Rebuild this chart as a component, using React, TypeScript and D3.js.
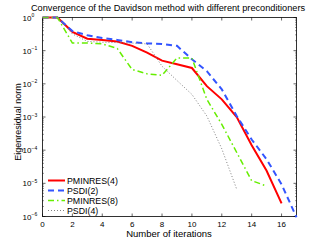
import React from "react";
import * as d3 from "d3";

const iterations = d3.range(0, 18);

const pminres4 = [1, 1, 0.37, 0.23, 0.21, 0.19, 0.14, 0.087, 0.05, 0.039, 0.03, 0.0085, 0.0034, 0.001, 1.4e-4, 2.4e-5, 2.5e-6];
const psdi2 = [1, 1, 0.39, 0.29, 0.24, 0.21, 0.18, 0.165, 0.16, 0.14, 0.055, 0.024, 0.0068, 0.00107, 2.1e-4, 5.3e-5, 9.3e-6, 9.5e-7];
const pminres8 = [1, 1, 0.17, 0.17, 0.16, 0.117, 0.027, 0.02, 0.018, 0.06, 0.06, 0.0034, 6e-4, 8.5e-5, 1.2e-5, 8.3e-6];
const psdi4 = [1, 1, 0.32, 0.19, 0.18, 0.175, 0.17, 0.16, 0.034, 0.0126, 0.0048, 0.00107, 1.1e-4, 6.6e-6];

const xTicks = [0, 2, 4, 6, 8, 10, 12, 14, 16];
const yExponents = [0, -1, -2, -3, -4, -5, -6];

const series = [
  { name: "PMINRES(4)", values: pminres4, color: "#ff0000", dash: "", width: 2 },
  { name: "PSDI(2)", values: psdi2, color: "#3355ff", dash: "6,4", width: 2 },
  { name: "PMINRES(8)", values: pminres8, color: "#66ee00", dash: "6,3,1.5,3", width: 1.5 },
  { name: "PSDI(4)", values: psdi4, color: "#808080", dash: "1,2", width: 1 },
];

const W = 327;
const H = 246;
const m = { left: 42.5, right: 30.5, top: 17.5, bottom: 29.5 };

export default function App() {
  const x = d3.scaleLinear().domain([0, 17]).range([m.left, W - m.right]);
  const y = d3.scaleLog().domain([1e-6, 1]).range([H - m.bottom, m.top]);
  const line = d3
    .line<number>()
    .x((_, i) => x(iterations[i]))
    .y((d) => y(d));
  const font = "'Liberation Sans', Arial, sans-serif";
  const minor: number[] = [];
  for (let e = -6; e < 0; e++) for (let k = 2; k < 10; k++) minor.push(k * Math.pow(10, e));
  const x0 = x(0), x1 = x(17), y0 = y(1e-6), y1 = y(1);

  return (
    <svg width={W} height={H} style={{ position: "absolute", left: 0, top: 0 }} fontFamily={font}>
      <rect width={W} height={H} fill="#fff" />
      <text x={168} y={10.5} fontSize={9.2} textAnchor="middle" fill="#000">
        Convergence of the Davidson method with different preconditioners
      </text>
      <rect x={x0} y={y1} width={x1 - x0} height={y0 - y1} fill="#fff" stroke="#000" strokeWidth={0.8} />
      {xTicks.map((t) => (
        <g key={t}>
          <line x1={x(t)} x2={x(t)} y1={y0} y2={y0 - 3} stroke="#000" strokeWidth={0.6} />
          <line x1={x(t)} x2={x(t)} y1={y1} y2={y1 + 3} stroke="#000" strokeWidth={0.6} />
          <text x={x(t)} y={y0 + 10} fontSize={8} textAnchor="middle">{t}</text>
        </g>
      ))}
      {yExponents.map((e) => (
        <g key={e}>
          <line x1={x0} x2={x0 + 3} y1={y(Math.pow(10, e))} y2={y(Math.pow(10, e))} stroke="#000" strokeWidth={0.6} />
          <line x1={x1} x2={x1 - 3} y1={y(Math.pow(10, e))} y2={y(Math.pow(10, e))} stroke="#000" strokeWidth={0.6} />
          <text x={x0 - 11} y={y(Math.pow(10, e)) + 3} fontSize={8} textAnchor="end">
            10
          </text>
          <text x={x0 - 11} y={y(Math.pow(10, e)) - 0.5} fontSize={5} textAnchor="start">
            {e === 0 ? "0" : "\u2212" + -e}
          </text>
        </g>
      ))}
      {minor.map((v) => (
        <g key={v}>
          <line x1={x0} x2={x0 + 1.5} y1={y(v)} y2={y(v)} stroke="#000" strokeWidth={0.4} />
          <line x1={x1} x2={x1 - 1.5} y1={y(v)} y2={y(v)} stroke="#000" strokeWidth={0.4} />
        </g>
      ))}
      {series.map((s) => (
        <path
          key={s.name}
          d={line(s.values) || ""}
          fill="none"
          stroke={s.color}
          strokeWidth={s.width}
          strokeDasharray={s.dash}
        />
      ))}
      {series.map((s, i) => (
        <g key={s.name} transform={`translate(0,${180.5 + i * 10})`}>
          <line x1={48} x2={65} y1={0} y2={0} stroke={s.color} strokeWidth={s.width} strokeDasharray={s.dash} />
          <text x={67} y={3.2} fontSize={8.8}>{s.name}</text>
        </g>
      ))}
      <text x={169} y={237} fontSize={9.5} textAnchor="middle">Number of iterations</text>
      <text transform={`translate(21,${122}) rotate(-90)`} fontSize={9} textAnchor="middle">
        Eigenresidual norm
      </text>
    </svg>
  );
}
